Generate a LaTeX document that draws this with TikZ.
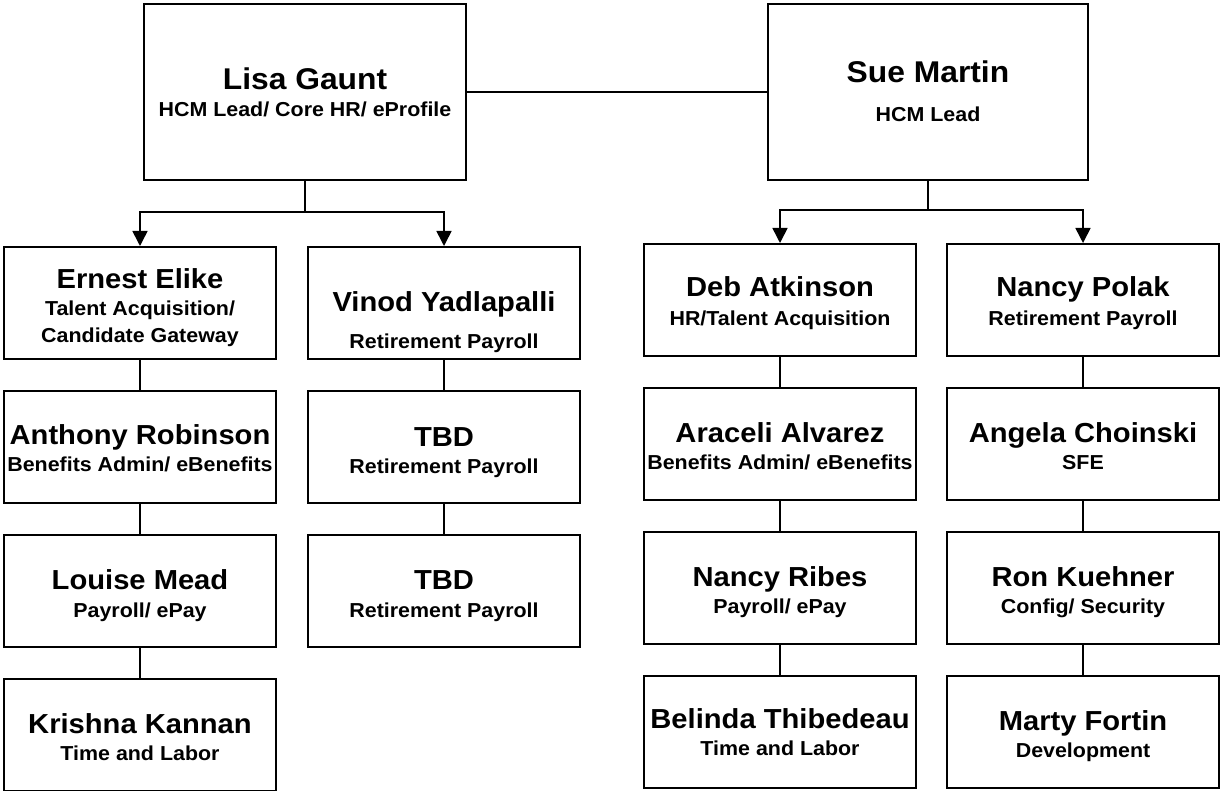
\documentclass[tikz,border=0pt]{standalone}
\usepackage{fontspec}
\setmainfont{Liberation Sans}[FakeStretch=1.06]
\usetikzlibrary{arrows.meta}

\tikzset{
  x=1pt, y=-1pt,
  card/.style={draw, line width=2pt, minimum width=272pt, minimum height=112pt,
               anchor=north west, inner sep=0pt},
  leadcard/.style={card, minimum height=176pt},
  who/.style={anchor=base, inner sep=0pt, font=\bfseries\fontsize{27.5}{30}\selectfont},
  leadwho/.style={who, font=\bfseries\fontsize{30}{33}\selectfont},
  role/.style={anchor=base, inner sep=0pt, font=\bfseries\fontsize{20.2}{24}\selectfont},
  link/.style={line width=1.6pt},
  feed/.style={link, -{Triangle[width=15pt,length=15pt]}},
}

% \member{id}{x}{y}{name}{role}{name baseline}{role baseline}
\newcommand\member[7]{%
  \node[card] (#1) at (#2,#3) {};
  \node[who, yshift=-#6pt] (#1-name) at (#1.north) {#4};
  \node[role, yshift=-#7pt] (#1-role) at (#1.north) {#5};
}

\begin{document}
\begin{tikzpicture}
\useasboundingbox (0,0) rectangle (1222,791);

% leads
\node[leadcard, minimum width=322pt] (lisa) at (143,3) {};
\node[leadwho, yshift=-87pt] (lisa-name) at (lisa.north) {Lisa Gaunt};
\node[role, yshift=-114pt] (lisa-role) at (lisa.north) {HCM Lead/ Core HR/ eProfile};

\node[leadcard, minimum width=320pt] (sue) at (767,3) {};
\node[leadwho, yshift=-80pt] (sue-name) at (sue.north) {Sue Martin};
\node[role, yshift=-119pt] (sue-role) at (sue.north) {HCM Lead};

% Lisa's team
\node[card] (ernest) at (3,246) {};
\node[who, yshift=-42pt] (ernest-name) at (ernest.north) {Ernest Elike};
\node[role, yshift=-70pt] (ernest-role) at (ernest.north) {Talent Acquisition/};
\node[role, yshift=-96pt] (ernest-role2) at (ernest.north) {Candidate Gateway};

\node[card] (vinod) at (307,246) {};
\node[who, yshift=-66pt] (vinod-name) at (vinod.north) {Vinod Yadlapalli};
\node[role, yshift=-102pt] (vinod-role) at (vinod.north) {Retirement Payroll};

\member{anthony}{3}{390}{Anthony Robinson}{Benefits Admin/ eBenefits}{54}{81}
\member{louise}{3}{534}{Louise Mead}{Payroll/ ePay}{55}{83}
\member{krishna}{3}{678}{Krishna Kannan}{Time and Labor}{55}{82}
\member{tbda}{307}{390}{TBD}{Retirement Payroll}{56}{83}
\member{tbdb}{307}{534}{TBD}{Retirement Payroll}{55}{83}

% Sue's team
\member{deb}{643}{243}{Deb Atkinson}{HR/Talent Acquisition}{54}{82}
\member{araceli}{643}{387}{Araceli Alvarez}{Benefits Admin/ eBenefits}{55}{82}
\member{ribes}{643}{531}{Nancy Ribes}{Payroll/ ePay}{55}{82}
\member{belinda}{643}{675}{Belinda Thibedeau}{Time and Labor}{53}{80}
\member{polak}{946}{243}{Nancy Polak}{Retirement Payroll}{54}{82}
\member{angela}{946}{387}{Angela Choinski}{SFE}{55}{82}
\member{ron}{946}{531}{Ron Kuehner}{Config/ Security}{55}{82}
\member{marty}{946}{675}{Marty Fortin}{Development}{55}{82}

% connectors
\coordinate (lisabar) at (0,212);
\coordinate (suebar) at (0,210);

\draw[link] (lisa.east) -- (sue.west);

\draw[feed] (lisa.south) -- (lisa.south |- lisabar) -| (ernest.north);
\draw[feed] (lisa.south) -- (lisa.south |- lisabar) -| (vinod.north);
\draw[feed] (sue.south) -- (sue.south |- suebar) -| (deb.north);
\draw[feed] (sue.south) -- (sue.south |- suebar) -| (polak.north);

\draw[link] (ernest.south) -- (anthony.north);
\draw[link] (anthony.south) -- (louise.north);
\draw[link] (louise.south) -- (krishna.north);
\draw[link] (vinod.south) -- (tbda.north);
\draw[link] (tbda.south) -- (tbdb.north);

\draw[link] (deb.south) -- (araceli.north);
\draw[link] (araceli.south) -- (ribes.north);
\draw[link] (ribes.south) -- (belinda.north);
\draw[link] (polak.south) -- (angela.north);
\draw[link] (angela.south) -- (ron.north);
\draw[link] (ron.south) -- (marty.north);
\end{tikzpicture}
\end{document}
